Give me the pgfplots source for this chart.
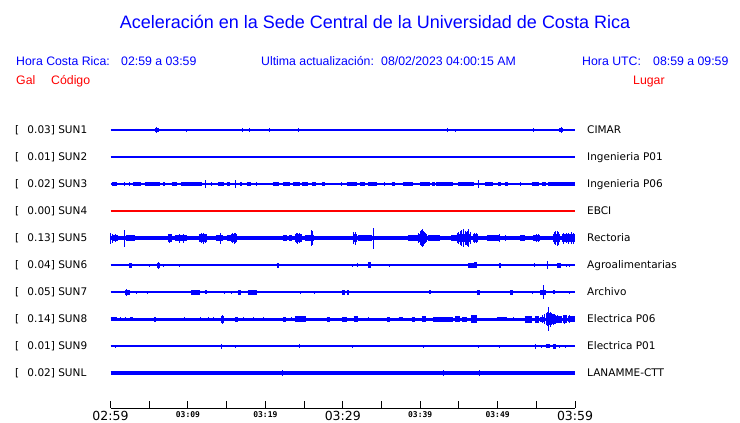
\documentclass[border=0pt]{standalone}
\usepackage{pgfplots}
\pgfplotsset{compat=1.18}
\usepackage{fontspec}
\setmainfont{Liberation Sans}
\newfontfamily\dvs{DejaVu Sans}
\newfontfamily\dvm{DejaVu Sans Mono}
\definecolor{pblue}{RGB}{0,0,255}
\definecolor{pred}{RGB}{255,0,0}
\pgfplotsset{
  seg/.style={pblue, line width=#1pt, mark=none, unbounded coords=jump},
  spk/.style={draw=none, mark=none, error bars/.cd, y dir=both, y explicit, error mark=none,
     error bar style={draw=#1, line width=1pt}},
}
\tikzset{
  bigl/.style={font=\dvs\fontsize{12.5}{14}\selectfont, anchor=base, inner sep=0},
  smll/.style={font=\dvm\bfseries\fontsize{8}{9}\selectfont, anchor=base, inner sep=0},
  hdr/.style={font=\fontsize{12.3}{14}\selectfont, anchor=base west, inner sep=0},
  lab/.style={font=\dvs\fontsize{10.5}{12}\selectfont, anchor=base west, inner sep=0},
}
\begin{document}
\begin{tikzpicture}
\begin{axis}[scale only axis, width=740pt, height=423pt,
  xmin=-14.273, xmax=81.31, ymin=0, ymax=423, y dir=reverse, hide axis, clip=false]
\path (axis cs:-14.273,0) rectangle (axis cs:81.31,423);
% SUN1
\addplot[pblue, line width=1.4pt] coordinates {(0,130)(60,130)};
\addplot[seg=4.5] table[x index=0, y expr=130, row sep=\\] {5.75\\6.3\\nan\\57.9\\58.45\\};
\addplot[spk=pblue] table[x index=0, y expr=130, y error index=1, row sep=\\] {2.2 1\\9.8 1.5\\17.1 2\\17.9 2\\20.5 2\\24.3 2\\43.5 2\\44.5 1.5\\54.7 2\\6.0 3\\58.2 3\\};
% SUN2
\addplot[pblue, line width=1.5pt] coordinates {(0,157)(60,157)};
% SUN3
\addplot[pblue, line width=1.3pt] coordinates {(0,184)(60,184)};
\addplot[seg=4] table[x index=0, y expr=184, row sep=\\] {0.15\\0.8\\nan\\2.95\\4.0\\nan\\4.4\\6.4\\nan\\6.8\\7.1\\nan\\7.9\\8.55\\nan\\9.1\\11.8\\nan\\13.9\\14.6\\nan\\15.0\\15.4\\nan\\16.7\\17.0\\nan\\17.6\\18.2\\nan\\21.0\\21.7\\nan\\22.3\\23.2\\nan\\23.6\\24.5\\nan\\24.7\\25.55\\nan\\26.0\\26.5\\nan\\27.3\\27.7\\nan\\30.5\\31.8\\nan\\32.2\\32.9\\nan\\33.3\\34.4\\nan\\36.3\\36.7\\nan\\37.8\\39.1\\nan\\40.0\\41.3\\nan\\41.5\\41.9\\nan\\42.1\\44.3\\nan\\44.9\\46.9\\nan\\48.4\\49.4\\nan\\50.1\\50.5\\nan\\50.95\\51.4\\nan\\54.4\\55.3\\nan\\55.7\\56.3\\nan\\56.5\\60\\};
\addplot[spk=pblue] table[x index=0, y expr=184, y error index=1, row sep=\\] {12.3 4\\16.2 4\\47.5 4\\1.75 2\\2.4 2\\13.0 2\\18.9 2\\29.85 2\\35.45 2\\52.9 2\\};
% SUN4
\addplot[pred, line width=1.5pt] coordinates {(0,211)(60,211)};
% SUN5
\addplot[pblue, line width=3.8pt] coordinates {(0,238)(60,238)};
\addplot[seg=6] table[x index=0, y expr=238, row sep=\\] {0.15\\1.0\\nan\\2.0\\3.2\\nan\\8.3\\9.9\\nan\\13.6\\14.5\\nan\\15.0\\15.5\\nan\\22.3\\22.8\\nan\\23.1\\23.5\\nan\\25.1\\26.3\\nan\\32.0\\33.8\\nan\\38.4\\39.7\\nan\\41.0\\42.6\\nan\\44.0\\44.7\\nan\\48.6\\50.3\\nan\\52.9\\53.5\\nan\\54.6\\55.5\\};
\addplot[seg=8] table[x index=0, y expr=238, row sep=\\] {7.4\\7.9\\nan\\11.4\\12.5\\nan\\15.6\\16.3\\nan\\23.8\\24.7\\nan\\31.3\\31.8\\nan\\39.7\\40.9\\nan\\44.7\\46.6\\nan\\46.8\\47.5\\nan\\57.2\\58.1\\nan\\58.3\\60\\};
\addplot[spk=pblue] table[x index=0, y expr=238, y error index=1, row sep=\\] {0.05 5.5\\0.3 4.5\\0.6 4\\1.8 8.5\\7.6 4.5\\8.9 4.5\\9.4 4.5\\11.7 5\\12.0 5.5\\12.3 4.5\\14.2 5.5\\15.8 5\\16.0 5.5\\16.2 5\\18.2 2\\19.7 2\\21.1 2\\24.0 5\\24.2 5.5\\24.45 5\\25.9 6\\26.0 8\\26.15 7\\31.4 6\\31.6 6.5\\34.0 10.5\\36.0 2\\37.0 2\\39.8 5\\40.0 7\\40.15 8\\40.3 9\\40.45 7.5\\40.6 6\\40.75 5\\44.8 5\\45.0 6\\45.2 7\\45.4 8\\45.6 9\\45.8 7\\46.0 6.5\\46.15 7.5\\46.3 9\\46.45 6\\47.0 5\\47.3 5\\50.3 4\\51.0 3\\55.0 4\\55.3 4\\57.3 6\\57.5 7\\57.7 7.5\\57.9 6.5\\58.5 5.5\\58.9 5\\59.2 5.5\\59.5 6\\59.8 5.5\\};
% SUN6
\addplot[pblue, line width=1.3pt] coordinates {(0,265)(60,265)};
\addplot[seg=5] table[x index=0, y expr=265, row sep=\\] {2.45\\2.8\\nan\\6.05\\6.35\\nan\\21.45\\21.75\\nan\\46.2\\47.0\\nan\\50.15\\50.45\\nan\\57.7\\58.2\\};
\addplot[seg=6] table[x index=0, y expr=265, row sep=\\] {33.25\\33.6\\nan\\47.0\\47.3\\};
\addplot[spk=pblue] table[x index=0, y expr=265, y error index=1, row sep=\\] {5.0 1.5\\6.8 1.5\\8.97 1.5\\17.8 1\\31.2 1.5\\31.9 2\\36.1 1.5\\40.2 1\\54.8 2\\56.5 4\\58.9 1.5\\59.3 1.5\\6.2 3.5\\};
% SUN7
\addplot[pblue, line width=1.3pt] coordinates {(0,292)(60,292)};
\addplot[seg=5] table[x index=0, y expr=292, row sep=\\] {1.9\\2.5\\nan\\10.4\\11.6\\nan\\16.5\\16.9\\nan\\17.7\\18.9\\nan\\29.9\\30.3\\nan\\30.55\\30.8\\nan\\47.4\\47.7\\nan\\51.65\\51.95\\nan\\55.5\\56.3\\};
\addplot[seg=4] table[x index=0, y expr=292, row sep=\\] {12.2\\12.4\\nan\\41.2\\41.4\\nan\\57.2\\57.4\\};
\addplot[spk=pblue] table[x index=0, y expr=292, y error index=1, row sep=\\] {0.8 1\\3.4 1.5\\4.75 1.5\\8.0 1\\14.7 1.5\\15.6 1.5\\21.0 1\\24.5 1.5\\26.3 1.5\\33.9 1\\40.1 1\\54.5 1.5\\55.96 7\\59.3 1.5\\2.1 3.5\\};
% SUN8
\addplot[pblue, line width=3pt] coordinates {(0,319)(60,319)};
\addplot[seg=4] table[x index=0, y expr=319, row sep=\\] {0\\0.8\\nan\\1.2\\1.4\\nan\\1.85\\2.05\\nan\\2.5\\2.95\\nan\\37.2\\37.8\\nan\\49.9\\51.2\\};
\addplot[seg=5] table[x index=0, y expr=319, row sep=\\] {5.6\\5.9\\nan\\16.1\\16.5\\nan\\22.3\\22.7\\nan\\27.9\\28.3\\nan\\29.9\\30.5\\nan\\35.7\\36.1\\nan\\38.9\\39.3\\nan\\41.7\\44.3\\nan\\45.4\\46.0\\nan\\55.5\\56.1\\};
\addplot[seg=6] table[x index=0, y expr=319, row sep=\\] {23.8\\25.3\\nan\\31.4\\32.0\\nan\\40.2\\40.8\\nan\\44.5\\45.1\\nan\\59.1\\60\\};
\addplot[seg=7] table[x index=0, y expr=319, row sep=\\] {14.3\\14.6\\nan\\53.5\\54.4\\nan\\54.8\\55.3\\nan\\57.6\\58.3\\};
\addplot[seg=8] table[x index=0, y expr=319, row sep=\\] {46.6\\47.3\\nan\\58.5\\58.9\\};
\addplot[seg=10] table[x index=0, y expr=319, row sep=\\] {57.0\\57.4\\};
\addplot[seg=12] table[x index=0, y expr=319, row sep=\\] {56.3\\56.75\\};
\addplot[spk=pblue] table[x index=0, y expr=319, y error index=1, row sep=\\] {55.8 4\\56.1 5\\56.4 7\\56.6 12\\56.8 7.5\\57.0 6\\57.2 5.5\\57.5 4.5\\57.8 4\\58.6 4.5\\59.3 4\\9.6 2\\11.6 2\\12.6 2\\13.3 2\\17.2 2\\18.5 2\\19.7 2\\23.4 2\\33.3 2\\52.0 2\\14.45 4.5\\};
% SUN9
\addplot[pblue, line width=1.3pt] coordinates {(0,346)(60,346)};
\addplot[seg=4] table[x index=0, y expr=346, row sep=\\] {56.25\\56.8\\};
\addplot[seg=5] table[x index=0, y expr=346, row sep=\\] {57.2\\57.5\\};
\addplot[spk=pblue] table[x index=0, y expr=346, y error index=1, row sep=\\] {0.6 1.5\\14.35 2.5\\16.1 1.5\\24.4 2\\31.2 1.5\\40.4 1.5\\47.5 1.5\\50.2 1.5\\54.95 2.5\\55.7 1.5\\58.0 1.5\\58.8 1.5\\};
% SUNL
\addplot[pblue, line width=4pt] coordinates {(0,373)(60,373)};
\addplot[spk=pblue] table[x index=0, y expr=373, y error index=1, row sep=\\] {22.2 3\\43.0 3\\47.7 3\\};
% time axis
\addplot[black, line width=1pt] coordinates {(0,408)(60,408)};
\addplot[spk=black] table[x index=0, y expr=404.5, y error index=1, row sep=\\] {0 3.5\\5 3.5\\10 3.5\\15 3.5\\20 3.5\\25 3.5\\30 3.5\\35 3.5\\40 3.5\\45 3.5\\50 3.5\\55 3.5\\60 3.5\\};
\node[bigl] at (axis cs:0,420.5) {02:59};
\node[bigl] at (axis cs:30,420.5) {03:29};
\node[bigl] at (axis cs:60,420.5) {03:59};
\node[smll] at (axis cs:10,417.5) {03:09};
\node[smll] at (axis cs:20,417.5) {03:19};
\node[smll] at (axis cs:40,417.5) {03:39};
\node[smll] at (axis cs:50,417.5) {03:49};
% header
\node[font=\fontsize{18}{20}\selectfont, text=pblue, anchor=base, inner sep=0] at (axis cs:34.163,28.5) {Aceleración en la Sede Central de la Universidad de Costa Rica};
\node[hdr, text=pblue] at (axis cs:-12.206,65.5) {Hora Costa Rica:};
\node[hdr, text=pblue] at (axis cs:1.356,65.5) {02:59 a 03:59};
\node[hdr, text=pblue] at (axis cs:19.439,65.5) {Ultima actualización:};
\node[hdr, text=pblue] at (axis cs:34.939,65.5) {08/02/2023 04:00:15 AM};
\node[hdr, text=pblue] at (axis cs:60.902,65.5) {Hora UTC:};
\node[hdr, text=pblue] at (axis cs:70.072,65.5) {08:59 a 09:59};
\node[hdr, text=pred] at (axis cs:-12.206,84.5) {Gal};
\node[hdr, text=pred] at (axis cs:-7.685,84.5) {Código};
\node[hdr, text=pred] at (axis cs:67.489,84.5) {Lugar};
% row labels
\node[lab] at (axis cs:-12.335,133.8) {[};
\node[lab] at (axis cs:-12.335,160.8) {[};
\node[lab] at (axis cs:-12.335,187.8) {[};
\node[lab] at (axis cs:-12.335,214.8) {[};
\node[lab] at (axis cs:-12.335,241.8) {[};
\node[lab] at (axis cs:-12.335,268.8) {[};
\node[lab] at (axis cs:-12.335,295.8) {[};
\node[lab] at (axis cs:-12.335,322.8) {[};
\node[lab] at (axis cs:-12.335,349.8) {[};
\node[lab] at (axis cs:-12.335,376.8) {[};
\node[lab] at (axis cs:-10.747,133.8) {0.03] SUN1};
\node[lab] at (axis cs:-10.747,160.8) {0.01] SUN2};
\node[lab] at (axis cs:-10.747,187.8) {0.02] SUN3};
\node[lab] at (axis cs:-10.747,214.8) {0.00] SUN4};
\node[lab] at (axis cs:-10.747,241.8) {0.13] SUN5};
\node[lab] at (axis cs:-10.747,268.8) {0.04] SUN6};
\node[lab] at (axis cs:-10.747,295.8) {0.05] SUN7};
\node[lab] at (axis cs:-10.747,322.8) {0.14] SUN8};
\node[lab] at (axis cs:-10.747,349.8) {0.01] SUN9};
\node[lab] at (axis cs:-10.747,376.8) {0.02] SUNL};
\node[lab] at (axis cs:61.547,133.8) {CIMAR};
\node[lab] at (axis cs:61.547,160.8) {Ingenieria P01};
\node[lab] at (axis cs:61.547,187.8) {Ingenieria P06};
\node[lab] at (axis cs:61.547,214.8) {EBCI};
\node[lab] at (axis cs:61.547,241.8) {Rectoria};
\node[lab] at (axis cs:61.547,268.8) {Agroalimentarias};
\node[lab] at (axis cs:61.547,295.8) {Archivo};
\node[lab] at (axis cs:61.547,322.8) {Electrica P06};
\node[lab] at (axis cs:61.547,349.8) {Electrica P01};
\node[lab] at (axis cs:61.547,376.8) {LANAMME-CTT};
\end{axis}
\end{tikzpicture}
\end{document}
